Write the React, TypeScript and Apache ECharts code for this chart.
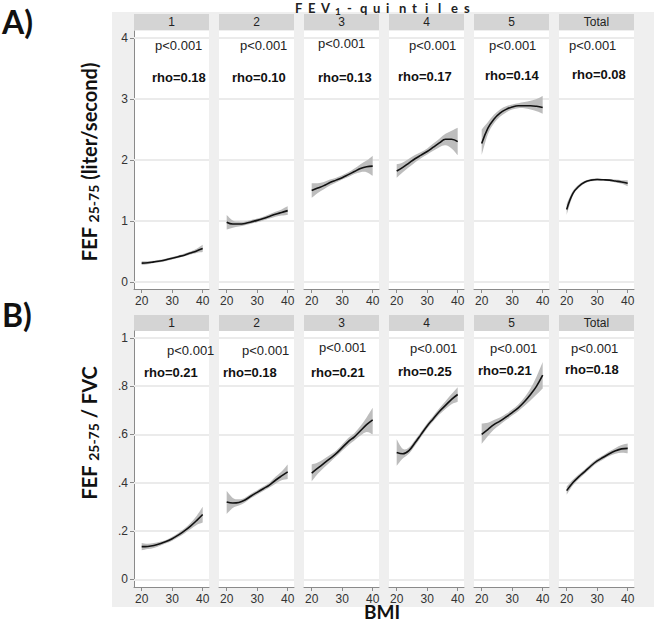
import React, { useEffect, useRef } from "react";
import * as echarts from "echarts";

// ---------- DATA ----------
const BMI = [20, 22, 24, 26, 28, 30, 32, 34, 36, 38, 40];
const PANELS = ["1", "2", "3", "4", "5", "Total"];
const X_TICKS = [20, 30, 40];
const FEF_TICKS = [0, 1, 2, 3, 4];
const RATIO_TICKS = [0, 0.2, 0.4, 0.6, 0.8, 1];

// A) FEF25-75 (liter/second): fitted line, lower and upper CI
const fefFit = [
  [0.31, 0.315, 0.33, 0.345, 0.365, 0.39, 0.415, 0.44, 0.475, 0.51, 0.55],
  [0.98, 0.95, 0.95, 0.96, 0.985, 1.01, 1.04, 1.075, 1.11, 1.14, 1.17],
  [1.5, 1.54, 1.58, 1.63, 1.67, 1.71, 1.76, 1.81, 1.86, 1.89, 1.9],
  [1.82, 1.88, 1.95, 2.02, 2.08, 2.14, 2.21, 2.28, 2.34, 2.34, 2.3],
  [2.27, 2.52, 2.67, 2.77, 2.83, 2.87, 2.89, 2.89, 2.89, 2.88, 2.86],
  [1.19, 1.45, 1.57, 1.64, 1.67, 1.68, 1.675, 1.67, 1.655, 1.64, 1.62],
];
const fefLow = [
  [0.28, 0.29, 0.31, 0.325, 0.345, 0.37, 0.395, 0.42, 0.45, 0.475, 0.49],
  [0.86, 0.89, 0.91, 0.93, 0.955, 0.98, 1.01, 1.04, 1.07, 1.09, 1.1],
  [1.38, 1.46, 1.52, 1.58, 1.63, 1.68, 1.72, 1.77, 1.8, 1.8, 1.74],
  [1.71, 1.8, 1.88, 1.96, 2.03, 2.09, 2.15, 2.21, 2.24, 2.19, 2.08],
  [2.08, 2.42, 2.6, 2.71, 2.78, 2.83, 2.85, 2.85, 2.83, 2.8, 2.76],
  [1.1, 1.41, 1.54, 1.62, 1.65, 1.66, 1.66, 1.65, 1.63, 1.61, 1.57],
];
const fefHigh = [
  [0.34, 0.34, 0.35, 0.365, 0.385, 0.41, 0.435, 0.465, 0.5, 0.545, 0.61],
  [1.1, 1.01, 0.99, 0.99, 1.015, 1.04, 1.07, 1.11, 1.15, 1.19, 1.24],
  [1.62, 1.62, 1.64, 1.68, 1.71, 1.75, 1.8, 1.86, 1.93, 1.99, 2.07],
  [1.93, 1.96, 2.02, 2.08, 2.13, 2.19, 2.27, 2.35, 2.43, 2.48, 2.53],
  [2.5, 2.62, 2.74, 2.83, 2.88, 2.91, 2.93, 2.95, 2.97, 3.0, 3.05],
  [1.28, 1.49, 1.6, 1.66, 1.69, 1.7, 1.69, 1.69, 1.68, 1.67, 1.67],
];

// B) FEF25-75 / FVC
const ratioFit = [
  [0.135, 0.136, 0.14, 0.147, 0.156, 0.168, 0.183, 0.2, 0.22, 0.243, 0.268],
  [0.32, 0.316, 0.318, 0.328, 0.345, 0.36, 0.375, 0.39, 0.41, 0.428, 0.445],
  [0.44, 0.46, 0.48, 0.5, 0.52, 0.545, 0.57, 0.59, 0.615, 0.64, 0.66],
  [0.525, 0.52, 0.533, 0.565, 0.6, 0.635, 0.665, 0.695, 0.72, 0.745, 0.765],
  [0.6, 0.62, 0.64, 0.655, 0.672, 0.69, 0.71, 0.735, 0.765, 0.8, 0.845],
  [0.367, 0.4, 0.425, 0.447, 0.47, 0.49, 0.505, 0.52, 0.532, 0.54, 0.542],
];
const ratioLow = [
  [0.12, 0.125, 0.13, 0.139, 0.149, 0.16, 0.174, 0.19, 0.207, 0.225, 0.235],
  [0.27, 0.295, 0.305, 0.318, 0.336, 0.351, 0.366, 0.38, 0.396, 0.41, 0.415],
  [0.405, 0.437, 0.462, 0.485, 0.508, 0.532, 0.555, 0.575, 0.595, 0.61, 0.6],
  [0.47, 0.5, 0.52, 0.553, 0.589, 0.624, 0.654, 0.682, 0.705, 0.725, 0.735],
  [0.56, 0.592, 0.62, 0.64, 0.659, 0.678, 0.696, 0.717, 0.74, 0.765, 0.79],
  [0.35, 0.388, 0.415, 0.438, 0.461, 0.481, 0.496, 0.51, 0.52, 0.524, 0.522],
];
const ratioHigh = [
  [0.15, 0.147, 0.15, 0.155, 0.163, 0.176, 0.192, 0.21, 0.233, 0.262, 0.3],
  [0.365, 0.337, 0.331, 0.338, 0.354, 0.369, 0.384, 0.4, 0.424, 0.446, 0.475],
  [0.475, 0.483, 0.498, 0.515, 0.532, 0.558, 0.585, 0.605, 0.635, 0.67, 0.71],
  [0.58, 0.54, 0.546, 0.577, 0.611, 0.646, 0.676, 0.708, 0.737, 0.767, 0.795],
  [0.645, 0.648, 0.66, 0.67, 0.685, 0.703, 0.724, 0.753, 0.79, 0.84, 0.9],
  [0.384, 0.412, 0.435, 0.456, 0.479, 0.499, 0.514, 0.53, 0.544, 0.556, 0.562],
];

const fefRho = ["0.18", "0.10", "0.13", "0.17", "0.14", "0.08"];
const ratioRho = ["0.21", "0.18", "0.21", "0.25", "0.21", "0.18"];
const P_TEXT = "p<0.001";
const TITLE_CHARS = ["F", "E", "V", "1", "-", "q", "u", "i", "n", "t", "i", "l", "e", "s"];

// ---------- LAYOUT ----------
const PANEL_LEFT = [134, 219, 304, 389, 474, 559];
const PANEL_W = 75;
const X_MIN = 17.48;
const X_MAX = 42.07;
const TITLE_X0 = 295;
const TITLE_STEP = 13;
const ROWS = [
  { top: 31, height: 258, min: -0.115, max: 4.115, header: 14, ticks: FEF_TICKS,
    fit: fefFit, low: fefLow, high: fefHigh, rho: fefRho,
    pPos: [[155, 45], [240, 45], [318, 43], [409, 45], [489, 45], [569, 45]],
    rPos: [[152, 77], [232, 77], [318, 77], [398, 76], [485, 75], [572, 74]] },
  { top: 331, height: 256, min: -0.032, max: 1.028, header: 315, ticks: RATIO_TICKS,
    fit: ratioFit, low: ratioLow, high: ratioHigh, rho: ratioRho,
    pPos: [[167, 350], [242, 350], [319, 347], [410, 348], [490, 348], [571, 348]],
    rPos: [[144, 372], [223, 372], [311, 372], [398, 371], [478, 370], [565, 369]] },
];

const SANS = "'Liberation Sans', Arial, sans-serif";
const BOLD = "Lato, 'Open Sans', sans-serif";
const AXIS_GRAY = "#8a8a8a";

function fmtTick(v: number) {
  if (v === 0) return "0";
  if (v >= 1) return String(v);
  return String(v).replace(/^0/, "");
}

// Catmull-Rom spline through screen points, as SVG path commands (continuing a path)
function splineSeg(pts: number[][]) {
  let d = "";
  for (let i = 0; i < pts.length - 1; i++) {
    const p0 = pts[Math.max(0, i - 1)], p1 = pts[i], p2 = pts[i + 1], p3 = pts[Math.min(pts.length - 1, i + 2)];
    const c1x = p1[0] + (p2[0] - p0[0]) / 6, c1y = p1[1] + (p2[1] - p0[1]) / 6;
    const c2x = p2[0] - (p3[0] - p1[0]) / 6, c2y = p2[1] - (p3[1] - p1[1]) / 6;
    d += ` C ${c1x} ${c1y} ${c2x} ${c2y} ${p2[0]} ${p2[1]}`;
  }
  return d;
}

export default function App() {
  const ref = useRef<HTMLDivElement>(null);
  useEffect(() => {
    document.body.style.margin = "0";
    const chart = echarts.init(ref.current!, undefined, { renderer: "svg" });
    const grid: any[] = [];
    const xAxis: any[] = [];
    const yAxis: any[] = [];
    const series: any[] = [];
    const graphic: any[] = [];

    graphic.push({ type: "rect", z: -10, shape: { x: 112, y: 12, width: 542, height: 595 }, style: { fill: "#efefef" } });

    ROWS.forEach((row, r) => {
      PANELS.forEach((name, c) => {
        const g = r * 6 + c;
        grid.push({ left: PANEL_LEFT[c], top: row.top, width: PANEL_W, height: row.height,
          show: true, backgroundColor: "#ffffff", borderWidth: 0 });
        xAxis.push({ type: "value", gridIndex: g, min: X_MIN, max: X_MAX, splitLine: { show: false },
          axisLine: { show: true, onZero: false, lineStyle: { color: AXIS_GRAY, width: 1 } },
          axisTick: { show: true, length: 4, customValues: X_TICKS, lineStyle: { color: AXIS_GRAY } },
          axisLabel: { show: true, customValues: X_TICKS, margin: 6, fontSize: 12, color: "#333", fontFamily: SANS } });
        yAxis.push({ type: "value", gridIndex: g, min: row.min, max: row.max, splitLine: { show: false },
          axisLine: { show: c === 0, onZero: false, lineStyle: { color: AXIS_GRAY, width: 1 } },
          axisTick: { show: c === 0, length: 4, customValues: row.ticks, lineStyle: { color: AXIS_GRAY } },
          axisLabel: { show: c === 0, customValues: row.ticks, margin: 6, fontSize: 12, color: "#333",
            fontFamily: SANS, formatter: (v: number) => fmtTick(v) } });
        const lo = row.low[c], hi = row.high[c], fit = row.fit[c];
        // confidence band (custom series, coordinates through the axes' scales)
        series.push({ type: "custom", coordinateSystem: "cartesian2d", xAxisIndex: g, yAxisIndex: g, z: 3, silent: true,
          data: BMI.map((x, j) => [x, lo[j], hi[j]]),
          encode: { x: 0, y: [1, 2] },
          renderItem: (params: any, api: any) => {
            if (params.dataIndex !== 0) return null;
            const up = BMI.map((x, j) => api.coord([x, hi[j]]));
            const dn = BMI.map((x, j) => api.coord([x, lo[j]])).reverse();
            const d = `M ${up[0][0]} ${up[0][1]}` + splineSeg(up) + ` L ${dn[0][0]} ${dn[0][1]}` + splineSeg(dn) + " Z";
            return { type: "path", shape: { pathData: d }, style: { fill: "#bdbdbd", stroke: "none" } };
          } });
        // fitted line, with the panel's grid lines
        series.push({ type: "line", xAxisIndex: g, yAxisIndex: g, smooth: 0.4, symbol: "none", silent: true, z: 4,
          lineStyle: { color: "#111", width: 1.6 }, data: BMI.map((x, j) => [x, fit[j]]),
          markLine: { silent: true, symbol: "none", z: 1, label: { show: false },
            lineStyle: { color: "#ebebeb", width: 2, type: "solid" },
            data: row.ticks.map((v) => ({ yAxis: v })) } });

        graphic.push({ type: "rect", shape: { x: PANEL_LEFT[c], y: row.header, width: PANEL_W, height: 16 },
          style: { fill: "#d4d4d4" } });
        graphic.push({ type: "text", x: PANEL_LEFT[c] + PANEL_W / 2, y: row.header + 8,
          style: { text: name, font: `12px ${SANS}`, fill: "#222", textAlign: "center", textVerticalAlign: "middle" } });
        graphic.push({ type: "text", x: row.pPos[c][0], y: row.pPos[c][1], z: 10,
          style: { text: P_TEXT, font: `13px ${SANS}`, fill: "#222", textAlign: "left", textVerticalAlign: "middle" } });
        graphic.push({ type: "text", x: row.rPos[c][0], y: row.rPos[c][1], z: 10,
          style: { text: "rho=" + row.rho[c], font: `bold 13px ${SANS}`, fill: "#111", textAlign: "left", textVerticalAlign: "middle" } });
      });
    });

    // spaced-out title "F E V1 - q u i n t i l e s"
    TITLE_CHARS.forEach((ch, i) => {
      const sub = i === 3;
      graphic.push({ type: "text", x: TITLE_X0 + i * TITLE_STEP + (sub ? 1 : 0), y: sub ? 6 : 1, z: 10,
        style: { text: ch, font: `bold ${sub ? 10 : 13}px ${BOLD}`, fill: "#222", textAlign: "left", textVerticalAlign: "top" } });
    });
    graphic.push({ type: "text", x: 2, y: 5, style: { text: "A)", font: `bold 32px ${BOLD}`, fill: "#111" } });
    graphic.push({ type: "text", x: 2, y: 298, style: { text: "B)", font: `bold 32px ${BOLD}`, fill: "#111" } });
    graphic.push({ type: "text", x: 89, y: 162, rotation: Math.PI / 2,
      style: { text: "{b|FEF }{s|25-75}{b| (liter/second)}", textAlign: "center", textVerticalAlign: "middle",
        rich: { b: { font: `bold 20px ${BOLD}`, fill: "#111", lineHeight: 24 },
                s: { font: `bold 14px ${BOLD}`, fill: "#111", lineHeight: 24, padding: [8, 0, 0, 0] } } } });
    graphic.push({ type: "text", x: 89, y: 433, rotation: Math.PI / 2,
      style: { text: "{b|FEF }{s|25-75}{b| / FVC}", textAlign: "center", textVerticalAlign: "middle",
        rich: { b: { font: `bold 20px ${BOLD}`, fill: "#111", lineHeight: 24 },
                s: { font: `bold 14px ${BOLD}`, fill: "#111", lineHeight: 24, padding: [8, 0, 0, 0] } } } });
    graphic.push({ type: "text", x: 382, y: 621,
      style: { text: "BMI", font: `bold 19px ${BOLD}`, fill: "#111", textAlign: "center", textVerticalAlign: "bottom" } });

    chart.setOption({ animation: false, backgroundColor: "#ffffff", grid, xAxis, yAxis, series, graphic });
    return () => chart.dispose();
  }, []);
  return <div ref={ref} style={{ position: "absolute", left: 0, top: 0, width: 654, height: 623 }} />;
}
